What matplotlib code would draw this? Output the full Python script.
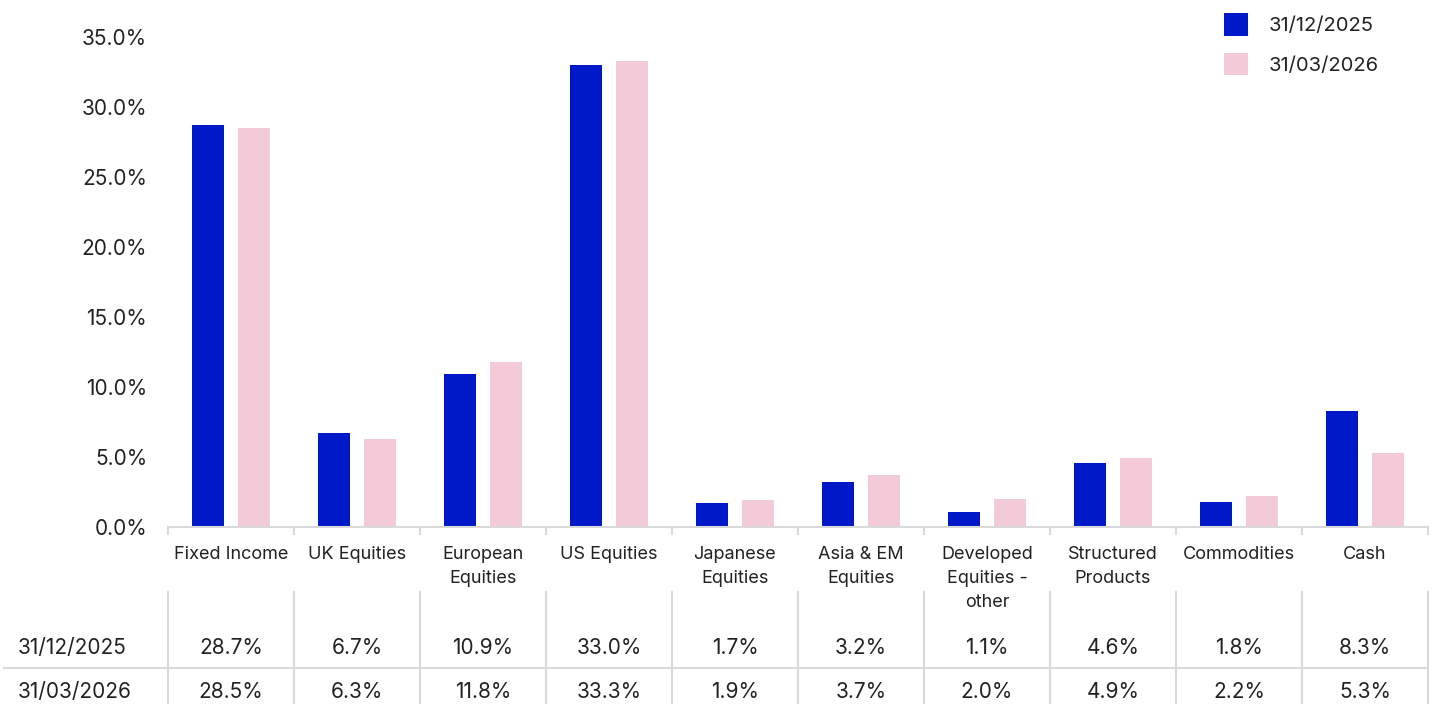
import matplotlib
matplotlib.use("Agg")
import matplotlib.pyplot as plt
from matplotlib import transforms
import numpy as np

categories = ["Fixed Income", "UK Equities", "European\nEquities", "US Equities",
              "Japanese\nEquities", "Asia & EM\nEquities", "Developed\nEquities -\nother",
              "Structured\nProducts", "Commodities", "Cash"]
series_names = ["31/12/2025", "31/03/2026"]
values_dec = [28.7, 6.7, 10.9, 33.0, 1.7, 3.2, 1.1, 4.6, 1.8, 8.3]
values_mar = [28.5, 6.3, 11.8, 33.3, 1.9, 3.7, 2.0, 4.9, 2.2, 5.3]
yticks = [0, 5, 10, 15, 20, 25, 30, 35]

BLUE = "#0019C8"
PINK = "#F2CAD8"
GRID = "#D9D9D9"
TXT = "#222222"

plt.rcParams['font.family'] = ['Inter', 'DejaVu Sans']
W, H = 1437, 704
fig = plt.figure(figsize=(W/100, H/100), dpi=100)

def fy(py):
    return 1 - py / H

ax = fig.add_axes([168/W, fy(527), (1428-168)/W, (527-37)/H])
x = np.arange(len(categories))
bw = 0.254
off = 0.186
ax.bar(x - off, values_dec, bw, color=BLUE, label=series_names[0])
ax.bar(x + off, values_mar, bw, color=PINK, label=series_names[1])
ax.set_xlim(-0.5, len(categories) - 0.5)
ax.set_ylim(0, 35)
ax.set_yticks(yticks)
ax.set_yticklabels([f"{v:.1f}%" for v in yticks], fontsize=15, color=TXT)
ax.tick_params(axis='y', length=0, pad=15)
for s in ['top', 'right', 'left']:
    ax.spines[s].set_visible(False)
ax.spines['bottom'].set_color(GRID)
ax.spines['bottom'].set_linewidth(1.5)
ax.set_xticks(x)
ax.set_xticklabels(categories, fontsize=13, color=TXT, linespacing=1.55)
ax.tick_params(axis='x', which='major', length=0, pad=13.5)
ax.set_xticks(np.arange(-0.5, len(categories)), minor=True)
ax.tick_params(axis='x', which='minor', length=6, width=1.5, color=GRID, direction='out')

# legend
leg = ax.legend(loc='upper left', bbox_to_anchor=((1216-168)/(1428-168), 1 + 32/490),
                frameon=False, fontsize=14.5, handlelength=1.2, handleheight=1.35,
                handletextpad=1.0, labelspacing=0.85, borderaxespad=0)
for t in leg.get_texts():
    t.set_color(TXT)

# table
tr = transforms.blended_transform_factory(ax.transData, fig.transFigure)
for b in np.arange(-0.5, len(categories)):
    ax.plot([b, b], [fy(592), fy(704)], transform=tr, color=GRID, lw=1.5, clip_on=False)
ax.plot([-0.5 - 164/126.0, len(categories) - 0.5], [fy(668), fy(668)], transform=tr,
        color=GRID, lw=1.5, clip_on=False)
rows = [values_dec, values_mar]
row_y = [646, 691]
for name, vals, py in zip(series_names, rows, row_y):
    fig.text(18/W, fy(py + 1.5), name, fontsize=15, color=TXT, va='center', ha='left')
    for i, v in enumerate(vals):
        ax.text(i, fy(py + 1.5), f"{v:.1f}%", transform=tr, fontsize=15, color=TXT,
                va='center', ha='center', clip_on=False)

fig.savefig("out.png", dpi=100)
